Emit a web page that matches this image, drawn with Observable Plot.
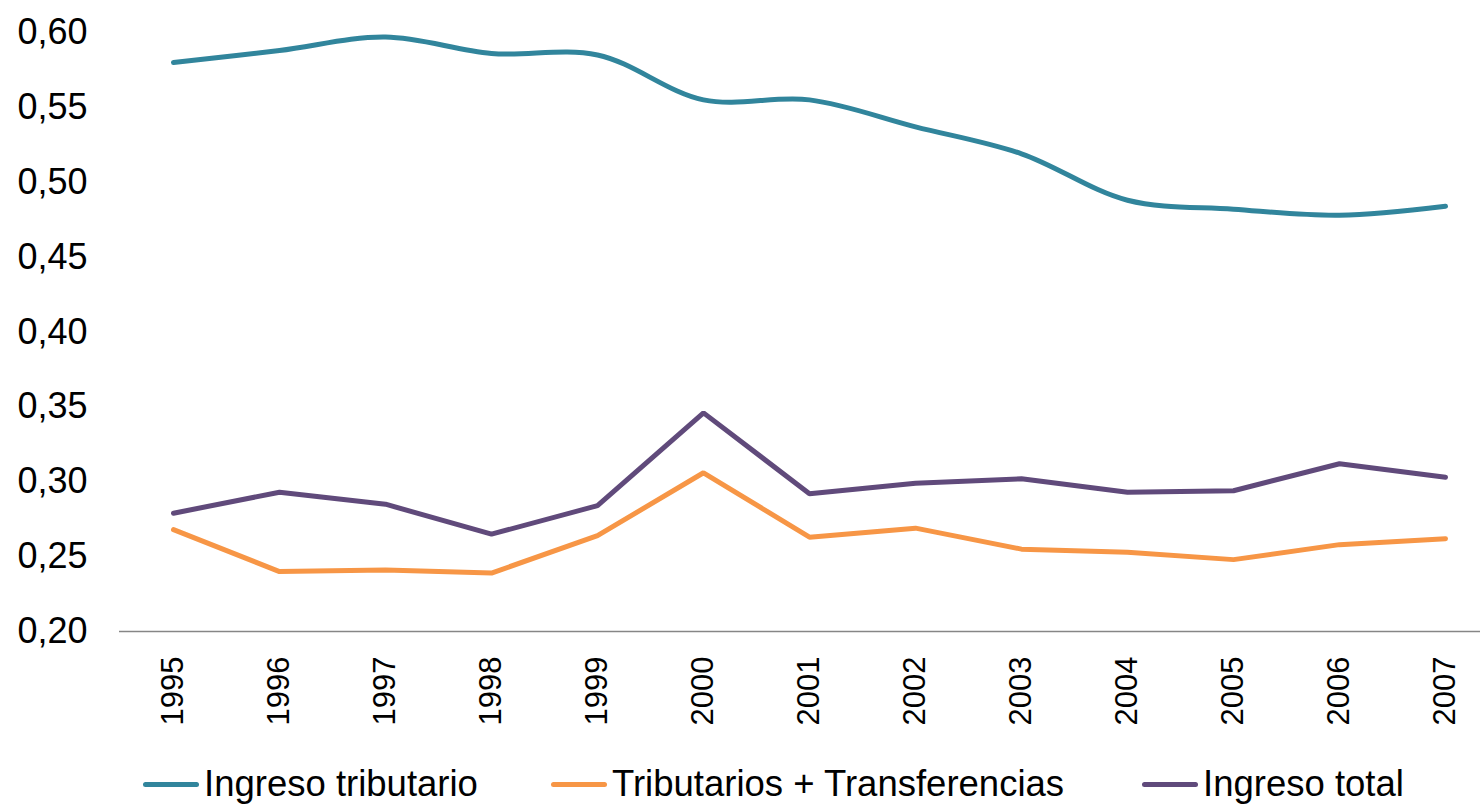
<!DOCTYPE html>
<html>
<head>
<meta charset="utf-8">
<script src="https://cdn.jsdelivr.net/npm/d3@7"></script>
<script src="https://cdn.jsdelivr.net/npm/@observablehq/plot@0.6"></script>
<style>
  html, body { margin: 0; padding: 0; background: #fff; }
  #wrap { width: 1480px; height: 806px; position: relative; overflow: hidden; font-family: "Liberation Sans", Arial, sans-serif; }
  #legend { position: relative; width: 1480px; height: 44px; }
  .item { position: absolute; top: 0; height: 44px; display: flex; align-items: center; font-size: 36.5px; color: #000; white-space: nowrap; }
  .sw { width: 56px; height: 5px; border-radius: 3px; margin-right: 5px; }
</style>
</head>
<body>
<div id="wrap"><div id="chart"></div><div id="legend"></div></div>
<script>
const years = [1995, 1996, 1997, 1998, 1999, 2000, 2001, 2002, 2003, 2004, 2005, 2006, 2007];
const ingresoTributario = [0.580, 0.588, 0.597, 0.586, 0.585, 0.555, 0.555, 0.537, 0.519, 0.488, 0.482, 0.478, 0.484];
const tributariosTransferencias = [0.268, 0.240, 0.241, 0.239, 0.264, 0.306, 0.263, 0.269, 0.255, 0.253, 0.248, 0.258, 0.262];
const ingresoTotal = [0.279, 0.293, 0.285, 0.265, 0.284, 0.346, 0.292, 0.299, 0.302, 0.293, 0.294, 0.312, 0.303];
const seriesNames = ["Ingreso tributario", "Tributarios + Transferencias", "Ingreso total"];
const seriesColors = ["#31859C", "#F79646", "#604A7B"];
const yTicks = [0.20, 0.25, 0.30, 0.35, 0.40, 0.45, 0.50, 0.55, 0.60];

const toRows = (vals, name) => years.map((y, i) => ({year: y, value: vals[i], series: name}));
const rowsTrib = toRows(ingresoTributario, seriesNames[0]);
const rowsTT = toRows(tributariosTransferencias, seriesNames[1]);
const rowsTot = toRows(ingresoTotal, seriesNames[2]);

const chart = Plot.plot({
  width: 1480,
  height: 762,
  marginLeft: 119,
  marginRight: 0,
  marginTop: 32,
  marginBottom: 131,
  style: {fontFamily: "'Liberation Sans', Arial, sans-serif", background: "#fff", color: "#000"},
  x: {type: "point", domain: years, range: [172, 1445], padding: 0},
  y: {domain: [0.2, 0.6], range: [631, 32]},
  color: {domain: seriesNames, range: seriesColors},
  marks: [
    Plot.axisY({ticks: yTicks, tickSize: 0, tickPadding: 32, fontSize: 36, tickFormat: d => d.toFixed(2).replace(".", ","), label: null}),
    Plot.axisX({tickRotate: -90, tickSize: 0, tickPadding: 25, fontSize: 31, tickFormat: d => String(d), label: null}),
    Plot.ruleY([0.2], {stroke: "#868686", strokeWidth: 1.5}),
    Plot.line(rowsTrib, {x: "year", y: "value", stroke: seriesColors[0], strokeWidth: 5, curve: "catmull-rom"}),
    Plot.line(rowsTT, {x: "year", y: "value", stroke: seriesColors[1], strokeWidth: 5, strokeLinejoin: "miter"}),
    Plot.line(rowsTot, {x: "year", y: "value", stroke: seriesColors[2], strokeWidth: 5, strokeLinejoin: "miter"})
  ]
});
document.getElementById("chart").appendChild(chart);

const legendLefts = [143, 551, 1142];
const legend = document.getElementById("legend");
seriesNames.forEach((name, i) => {
  const it = document.createElement("div");
  it.className = "item";
  it.style.left = legendLefts[i] + "px";
  const sw = document.createElement("div");
  sw.className = "sw";
  sw.style.background = seriesColors[i];
  const tx = document.createElement("span");
  tx.textContent = name;
  it.appendChild(sw);
  it.appendChild(tx);
  legend.appendChild(it);
});
</script>
</body>
</html>
